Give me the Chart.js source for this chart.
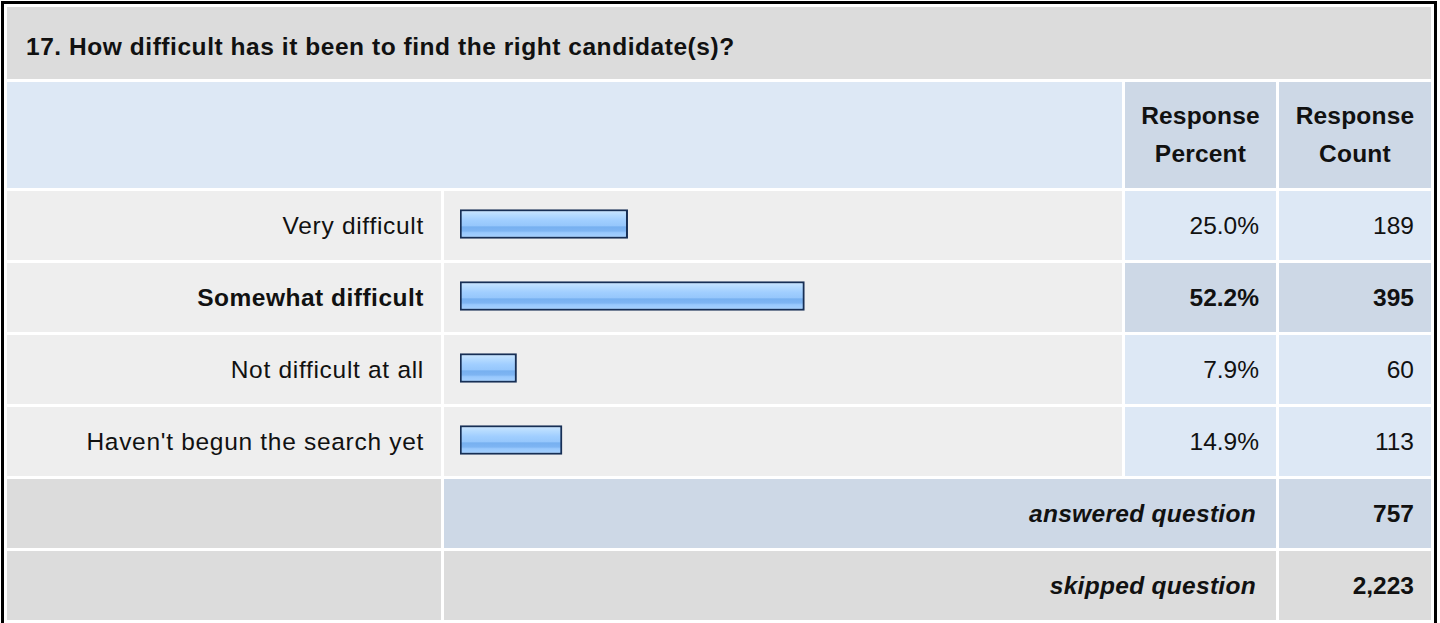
<!DOCTYPE html>
<html>
<head>
<meta charset="utf-8">
<script src="https://cdn.jsdelivr.net/npm/chart.js@4"></script>
<style>
  html, body { margin: 0; padding: 0; background: #fff; }
  body { width: 1440px; height: 623px; overflow: hidden; position: relative;
         font-family: Arial, "Liberation Sans", sans-serif; color: #111; }
  #box { position: absolute; left: 1px; top: 1px; border: 3px solid #000; padding: 3px;
         display: grid; grid-template-columns: 434px 678px 151px 152px;
         grid-template-rows: 72px 106px repeat(6, 69px); gap: 3px; background: #fff; }
  #box > div { display: flex; align-items: center; box-sizing: border-box; font-size: 24.5px; }
  .title { grid-column: 1 / 5; background: #dcdcdc; font-weight: bold; padding: 7px 0 0 19px; letter-spacing: 0.55px; }
  .hblank { grid-column: 1 / 3; background: #dde8f5; }
  .hcol { background: #cdd8e6; font-weight: bold; justify-content: center; text-align: center; line-height: 38px; letter-spacing: 0.2px; }
  .lab { background: #eeeeee; justify-content: flex-end; padding-right: 17px; letter-spacing: 0.7px; }
  .barcell { background: #eeeeee; }
  .num { background: #dde8f5; justify-content: flex-end; padding-right: 17px; }
  .hl { font-weight: bold; }
  .lab.hl { letter-spacing: 0.5px; }
  .num.hl { background: #cdd8e6; }
  .sumlab { grid-column: 2 / 4; justify-content: flex-end; padding-right: 20px; font-weight: bold; font-style: italic; letter-spacing: 0.3px; }
  .sumnum { justify-content: flex-end; padding-right: 17px; font-weight: bold; }
  #bars { position: absolute; left: 444px; top: 188px; }
</style>
</head>
<body>
<div id="box"></div>
<canvas id="bars" width="678" height="288"></canvas>
<script>
const questionTitle = '17. How difficult has it been to find the right candidate(s)?';
const categories = ['Very difficult', 'Somewhat difficult', 'Not difficult at all', "Haven't begun the search yet"];
const percents = [25.0, 52.2, 7.9, 14.9];
const counts = [189, 395, 60, 113];
const answeredCount = 757;
const skippedCount = 2223;

const box = document.getElementById('box');
function cell(cls, html, bg) {
  const d = document.createElement('div');
  d.className = cls;
  d.innerHTML = html;
  if (bg) d.style.background = bg;
  box.appendChild(d);
  return d;
}

// highlighted row = largest response
const topIdx = percents.indexOf(Math.max(...percents));

cell('title', questionTitle);
cell('hblank', '');
cell('hcol', 'Response<br>Percent');
cell('hcol', 'Response<br>Count');
categories.forEach((c, i) => {
  const hl = i === topIdx ? ' hl' : '';
  cell('lab' + hl, c);
  cell('barcell', '');
  cell('num' + hl, percents[i].toFixed(1) + '%');
  cell('num' + hl, String(counts[i]));
});
cell('lab', '', '#dcdcdc');
cell('sumlab', 'answered question', '#cdd8e6');
cell('sumnum', answeredCount.toLocaleString('en-US'), '#cdd8e6');
cell('lab', '', '#dcdcdc');
cell('sumlab', 'skipped question', '#dcdcdc');
cell('sumnum', skippedCount.toLocaleString('en-US'), '#dcdcdc');

const thick = 29;
function barFill(ctx) {
  const ys = ctx.chart.scales.y;
  if (!ys || ctx.dataIndex === undefined) return '#9dccff';
  const c = ys.getPixelForValue(ctx.dataIndex);
  if (!isFinite(c)) return '#9dccff';
  const g = ctx.chart.ctx.createLinearGradient(0, c - thick / 2, 0, c + thick / 2);
  g.addColorStop(0, '#cfe8ff');
  g.addColorStop(0.2, '#b4daff');
  g.addColorStop(0.38, '#a0ceff');
  g.addColorStop(0.56, '#96c7fc');
  g.addColorStop(0.6, '#77b0f0');
  g.addColorStop(0.74, '#7eb5f3');
  g.addColorStop(0.8, '#98c8fd');
  g.addColorStop(1, '#a8d3ff');
  return g;
}

new Chart(document.getElementById('bars').getContext('2d'), {
  type: 'bar',
  data: {
    labels: categories,
    datasets: [{
      data: percents,
      base: -0.8,
      backgroundColor: barFill,
      borderColor: '#172f55',
      borderWidth: 2,
      borderSkipped: false,
      barThickness: thick
    }]
  },
  options: {
    indexAxis: 'y',
    responsive: false,
    animation: false,
    devicePixelRatio: 1,
    layout: { padding: { left: 16, right: 7, top: 0, bottom: 0 } },
    plugins: { legend: { display: false }, tooltip: { enabled: false } },
    scales: {
      x: { type: 'linear', min: -0.8, max: 100, display: false },
      y: { type: 'category', display: false }
    }
  }
});
</script>
</body>
</html>
